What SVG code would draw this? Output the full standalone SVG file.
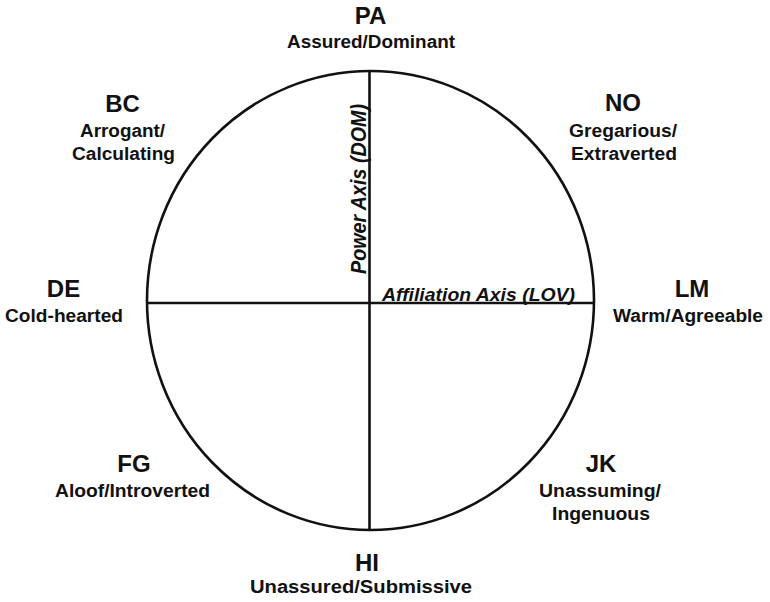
<svg xmlns="http://www.w3.org/2000/svg" width="770" height="602" viewBox="0 0 770 602">
  <style>
    text { font-family: "Liberation Sans", Arial, sans-serif; font-weight: bold; fill: #111; }
    .t { font-size: 24px; text-anchor: middle; }
    .s { font-size: 18px; text-anchor: middle; }
    .ax { font-size: 18px; font-style: italic; }
    .ln { stroke: #111; stroke-width: 2.6; fill: none; }
  </style>
  <rect width="770" height="602" fill="#fff"/>
  <ellipse id="circle" class="ln" cx="370.5" cy="300.5" rx="223.5" ry="229.5"/>
  <g id="connectors">
    <line class="ln" x1="369.5" y1="71" x2="369.5" y2="530"/>
    <line class="ln" x1="147" y1="303" x2="594" y2="303"/>
  </g>
  <g id="axis-labels">
    <text class="ax" x="382" y="300.5" textLength="193" lengthAdjust="spacingAndGlyphs">Affiliation Axis (LOV)</text>
    <text class="ax" transform="translate(366,274) rotate(-90) scale(1,1.2)" x="0" y="0" textLength="170" lengthAdjust="spacingAndGlyphs" style="font-size:19px">Power Axis (DOM)</text>
  </g>
  <g id="node-PA">
    <text class="t" x="370.5" y="23.5">PA</text>
    <text class="s" x="371" y="48" textLength="168" lengthAdjust="spacingAndGlyphs">Assured/Dominant</text>
  </g>
  <g id="node-BC">
    <text class="t" x="122.5" y="111.5">BC</text>
    <text class="s" x="122.5" y="137" textLength="85" lengthAdjust="spacingAndGlyphs">Arrogant/</text>
    <text class="s" x="123.5" y="160" textLength="103" lengthAdjust="spacingAndGlyphs">Calculating</text>
  </g>
  <g id="node-NO">
    <text class="t" x="623" y="111">NO</text>
    <text class="s" x="623" y="137" textLength="108" lengthAdjust="spacingAndGlyphs">Gregarious/</text>
    <text class="s" x="624" y="160" textLength="106" lengthAdjust="spacingAndGlyphs">Extraverted</text>
  </g>
  <g id="node-DE">
    <text class="t" x="63.5" y="297">DE</text>
    <text class="s" x="64" y="322" textLength="118" lengthAdjust="spacingAndGlyphs">Cold-hearted</text>
  </g>
  <g id="node-LM">
    <text class="t" x="692" y="297">LM</text>
    <text class="s" x="688" y="322" textLength="150" lengthAdjust="spacingAndGlyphs">Warm/Agreeable</text>
  </g>
  <g id="node-FG">
    <text class="t" x="134" y="472">FG</text>
    <text class="s" x="132.5" y="497" textLength="155" lengthAdjust="spacingAndGlyphs">Aloof/Introverted</text>
  </g>
  <g id="node-JK">
    <text class="t" x="601" y="472">JK</text>
    <text class="s" x="600" y="497" textLength="122" lengthAdjust="spacingAndGlyphs">Unassuming/</text>
    <text class="s" x="601" y="520" textLength="98" lengthAdjust="spacingAndGlyphs">Ingenuous</text>
  </g>
  <g id="node-HI">
    <text class="t" x="367" y="571">HI</text>
    <text class="s" x="361" y="593" textLength="222" lengthAdjust="spacingAndGlyphs">Unassured/Submissive</text>
  </g>
</svg>
